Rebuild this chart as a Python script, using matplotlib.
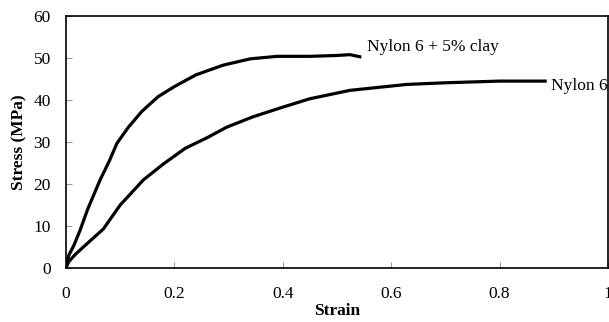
import matplotlib
matplotlib.use('Agg')
import matplotlib.pyplot as plt

clay_strain = [0, 0.005, 0.015, 0.026, 0.04, 0.063, 0.08, 0.094, 0.115, 0.14, 0.17, 0.2, 0.24, 0.29, 0.34, 0.39, 0.45, 0.5, 0.524, 0.542]
clay_stress = [0, 3, 5.5, 9, 14, 21, 25.5, 29.7, 33.5, 37.3, 40.8, 43.2, 46, 48.3, 49.8, 50.4, 50.4, 50.6, 50.8, 50.3]

nylon_strain = [0, 0.005, 0.017, 0.032, 0.069, 0.1, 0.143, 0.18, 0.22, 0.26, 0.296, 0.345, 0.4, 0.45, 0.524, 0.628, 0.7, 0.8, 0.884]
nylon_stress = [0, 1.5, 3.2, 5, 9.3, 15, 21, 24.8, 28.5, 31, 33.5, 36, 38.3, 40.3, 42.3, 43.7, 44.1, 44.5, 44.5]

xticks = [0, 0.2, 0.4, 0.6, 0.8, 1]
xtick_labels = ['0', '0.2', '0.4', '0.6', '0.8', '1']
yticks = [0, 10, 20, 30, 40, 50, 60]

plt.rcParams['font.family'] = ['Liberation Serif', 'DejaVu Serif']

fig = plt.figure(figsize=(6.09, 3.22), dpi=100)
ax = fig.add_axes([66 / 609, 1 - 268 / 322, 542 / 609, 252 / 322])

ax.plot(clay_strain, clay_stress, color='black', lw=2.3, solid_joinstyle='round')
ax.plot(nylon_strain, nylon_stress, color='black', lw=2.3, solid_joinstyle='round')

ax.text(0.555, 52.6, 'Nylon 6 + 5% clay', fontsize=12.5, va='center', ha='left')
ax.text(0.895, 43.3, 'Nylon 6', fontsize=12.5, va='center', ha='left')

ax.set_xlim(0, 1)
ax.set_ylim(0, 60)
ax.set_xticks(xticks)
ax.set_xticklabels(xtick_labels)
ax.set_yticks(yticks)
ax.tick_params(axis='both', direction='in', length=4, color='#999999', labelsize=12.5)
ax.tick_params(axis='x', pad=13)
ax.tick_params(axis='y', pad=11)

for s in ax.spines.values():
    s.set_linewidth(1.2)

ax.set_xlabel('Strain', fontsize=12.5, fontweight='bold', labelpad=1)
ax.set_ylabel('Stress (MPa)', fontsize=12.5, fontweight='bold', labelpad=4)

fig.savefig('out.png', dpi=100)
